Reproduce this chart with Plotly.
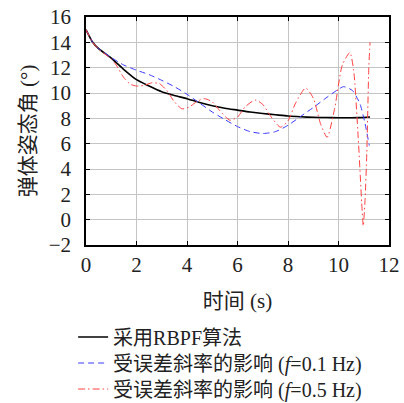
import plotly.graph_objects as go

# ---- data ----
t_black = [0, 0.25, 0.5, 1.0, 1.5, 2.0, 2.5, 3.0, 3.5, 4.0, 4.5, 5.0, 5.5, 6.0, 6.5, 7.0, 7.5, 8.0, 8.5, 9.0, 9.5, 10.0, 10.5, 11.0, 11.25]
y_black = [15.0, 14.05, 13.5, 12.75, 11.85, 11.05, 10.55, 10.1, 9.8, 9.55, 9.25, 9.0, 8.8, 8.65, 8.5, 8.38, 8.28, 8.18, 8.12, 8.08, 8.06, 8.05, 8.05, 8.07, 8.1]

t_blue = [0, 0.25, 0.5, 1.0, 1.5, 2.0, 2.5, 3.0, 3.5, 4.0, 4.5, 5.0, 5.5, 6.0, 6.5, 7.0, 7.5, 8.0, 8.5, 9.0, 9.5, 10.0, 10.2, 10.55, 10.85, 11.05, 11.22]
y_blue = [15.0, 14.05, 13.5, 12.8, 12.2, 11.8, 11.45, 11.0, 10.5, 9.9, 9.2, 8.5, 7.9, 7.35, 6.95, 6.8, 6.95, 7.45, 8.15, 8.85, 9.6, 10.3, 10.5, 10.2, 9.15, 7.6, 5.85]

t_red = [0, 0.25, 0.5, 0.8, 1.0, 1.2, 1.5, 1.75, 2.0, 2.3, 2.6, 2.9, 3.2, 3.5, 3.8, 4.1, 4.4, 4.7, 5.0, 5.3, 5.7, 6.0, 6.3, 6.7, 7.0, 7.3, 7.7, 8.0, 8.3, 8.7, 9.0, 9.3, 9.55, 9.85, 10.15, 10.45, 10.6, 10.78, 10.92, 10.98, 11.05, 11.12, 11.2, 11.25]
y_red = [15.0, 14.05, 13.45, 13.0, 12.7, 12.2, 11.2, 10.7, 10.55, 10.6, 10.8, 10.75, 10.2, 9.3, 8.75, 8.9, 9.35, 9.55, 9.3, 8.6, 7.85, 8.1, 8.9, 9.45, 9.1, 8.2, 7.3, 7.8, 9.2, 10.4, 9.6, 7.5, 6.5, 8.8, 12.2, 13.2, 11.8, 6.5, 1.3, -0.5, 1.5, 5.2, 12.0, 14.0]

names = ["采用RBPF算法", "受误差斜率的影响 (<i>f</i>=0.1 Hz)", "受误差斜率的影响 (<i>f</i>=0.5 Hz)"]
x_ticks = [0, 2, 4, 6, 8, 10, 12]
y_ticks = [-2, 0, 2, 4, 6, 8, 10, 12, 14, 16]
x_title = "时间 (s)"
y_title = "弹体姿态角 (°)"

FONT = "Liberation Serif, Noto Sans CJK SC, serif"

fig = go.Figure()
fig.add_trace(go.Scatter(x=t_black, y=y_black, mode="lines", name=names[0], legend="legend",
                         line=dict(color="black", width=1.6, shape="spline", smoothing=0.6)))
fig.add_trace(go.Scatter(x=t_blue, y=y_blue, mode="lines", name=names[1], legend="legend2",
                         line=dict(color="#3a3aff", width=1, dash="6px,4px", shape="spline", smoothing=0.6)))
fig.add_trace(go.Scatter(x=t_red, y=y_red, mode="lines", name=names[2], legend="legend3",
                         line=dict(color="#ff4040", width=1, dash="7px,3px,1.5px,3px", shape="spline", smoothing=0.6)))

axis_common = dict(showline=True, linecolor="black", linewidth=1.5, mirror="allticks",
                   ticks="inside", ticklen=4, tickcolor="black", showgrid=True,
                   gridcolor="#c4c4c4", gridwidth=1, zeroline=False, automargin=True,
                   tickfont=dict(family=FONT, size=21, color="#222"))

fig.update_xaxes(range=[0, 12], tickvals=x_ticks,
                 title=dict(text=x_title, font=dict(family=FONT, size=21, color="#222"), standoff=17),
                 **axis_common)
fig.update_yaxes(range=[-2, 16], tickvals=y_ticks, ticklabelstandoff=9, **axis_common)

# y-axis title as a rotated text label
fig.add_annotation(text=y_title, xref="paper", yref="paper", x=-0.191, y=0.5,
                   xanchor="center", yanchor="middle", textangle=-90, showarrow=False,
                   font=dict(family=FONT, size=21, color="#222"))

leg = dict(xref="container", yref="container", x=0.181, xanchor="left", yanchor="middle",
           font=dict(family=FONT, size=20, color="#222"), bgcolor="rgba(0,0,0,0)", itemwidth=30)

fig.update_layout(
    width=404, height=403,
    margin=dict(l=86, r=15, t=17, b=158, pad=0, autoexpand=False),
    paper_bgcolor="white", plot_bgcolor="white",
    font=dict(family=FONT, size=20, color="#222"),
    showlegend=True,
    legend=dict(leg, y=1 - 337 / 403),
    legend2=dict(leg, y=1 - 363 / 403),
    legend3=dict(leg, y=1 - 389 / 403),
)

fig.write_html("out.html")
